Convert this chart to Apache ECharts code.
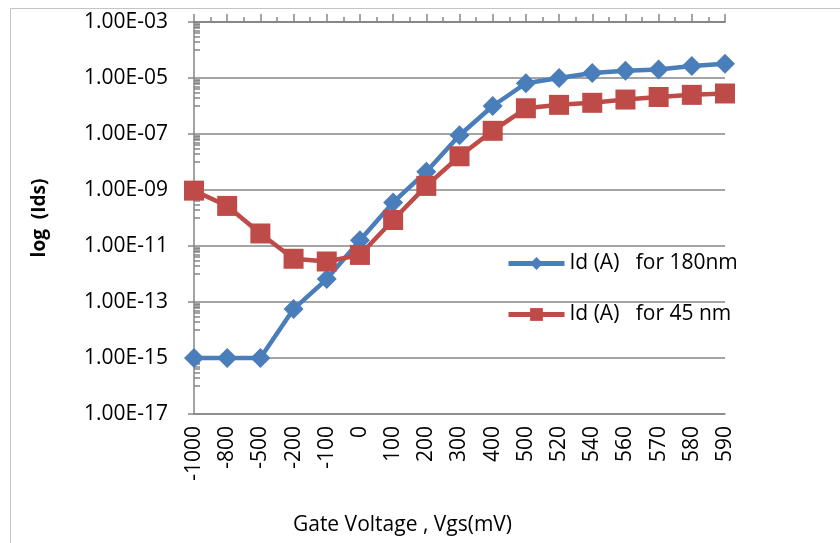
<!DOCTYPE html>
<html>
<head>
<meta charset="utf-8">
<script src="https://cdn.jsdelivr.net/npm/echarts@6/dist/echarts.min.js"></script>
<style>
  html, body { margin: 0; padding: 0; background: #fff; }
  #chart { width: 840px; height: 543px; }
</style>
</head>
<body>
<div id="chart"></div>
<script>
// gate voltage categories (mV)
const vgs = ['-1000', '-800', '-500', '-200', '-100', '0', '100', '200', '300',
  '400', '500', '520', '540', '560', '570', '580', '590']

// drain current Id (A)
const id180 = [1e-15, 1e-15, 1e-15, 5.6e-14, 6.6e-13, 1.6e-11, 3.6e-10, 4.5e-9, 9e-8,
  1.0e-6, 6.5e-6, 1.0e-5, 1.5e-5, 1.8e-5, 2.0e-5, 2.7e-5, 3.2e-5]
const id45 = [9.5e-10, 2.7e-10, 2.8e-11, 3.5e-12, 2.8e-12, 4.8e-12, 8.5e-11, 1.4e-9, 1.6e-8,
  1.3e-7, 8.3e-7, 1.1e-6, 1.3e-6, 1.7e-6, 2.1e-6, 2.5e-6, 2.8e-6]

const seriesNames = ['Id (A)   for 180nm', 'Id (A)   for 45 nm']

// y axis: major ticks every 2 decades
const yMin = 1e-17
const yMax = 1e-3
const majorExps = [-3, -5, -7, -9, -11, -13, -15]

const FONT = 'Open Sans'
const AXIS_GREY = '#868686'

// minor ticks below each major one: 10^e - k * 10^(e-1)
const minorTickValues = []
majorExps.forEach(e => {
  for (let k = 1; k <= 9; k++) {
    minorTickValues.push(Math.pow(10, e) - k * Math.pow(10, e - 1))
  }
})

// half steps between categories, only used for the small ticks on top
const halfSteps = []
vgs.forEach((v, i) => {
  if (i > 0) halfSteps.push(' ' + i)
  halfSteps.push(v)
})

function sci (v) {
  // 1e-5 -> 1.00E-05
  return v.toExponential(2).toUpperCase().replace(/E([+-])(\d)$/, 'E$10$2')
}

const chart = echarts.init(document.getElementById('chart'))

const topStrip = (data, len) => ({
  type: 'category',
  data: data,
  min: 0,
  max: data.length - 1,
  position: 'top',
  boundaryGap: false,
  axisLine: { show: true, onZero: false, lineStyle: { color: AXIS_GREY, width: 1.5 } },
  axisTick: { show: true, interval: 0, length: len, lineStyle: { color: AXIS_GREY, width: 1.5 } },
  axisLabel: { show: false },
  splitLine: { show: false }
})

const option = {
  animation: false,
  textStyle: { fontFamily: FONT },
  graphic: [
    {
      type: 'rect',
      shape: { x: 10.5, y: 8.5, width: 900, height: 600 },
      style: { fill: 'none', stroke: '#c4c4c4', lineWidth: 1 }
    }
  ],
  grid: {
    left: 194,
    right: 115,
    top: 22,
    bottom: 129,
    outerBoundsMode: 'none'
  },
  legend: {
    orient: 'vertical',
    left: 501,
    top: 248,
    itemWidth: 56,
    itemHeight: 16,
    itemGap: 30,
    lineStyle: { width: 5 },
    textStyle: { fontFamily: FONT, fontSize: 21, color: '#000' },
    data: seriesNames
  },
  xAxis: [
    {
      type: 'category',
      data: vgs,
      boundaryGap: false,
      name: 'Gate Voltage , Vgs(mV)',
      nameLocation: 'middle',
      nameGap: 101,
      nameTextStyle: { fontFamily: FONT, fontSize: 21, color: '#000', padding: [0, 114, 0, 0] },
      axisLine: { lineStyle: { color: AXIS_GREY, width: 1.5 } },
      axisTick: { show: false },
      axisLabel: {
        rotate: 90,
        margin: 12,
        fontSize: 21,
        color: '#000'
      }
    },
    topStrip(vgs, 8),
    topStrip(halfSteps, 5)
  ],
  yAxis: [
    {
      type: 'log',
      logBase: 10,
      min: yMin,
      max: yMax,
      interval: 2,
      name: 'log  (Ids)',
      nameLocation: 'middle',
      nameGap: 145,
      nameTextStyle: { fontFamily: FONT, fontSize: 19, fontWeight: 'bold', color: '#000' },
      axisLine: { show: true, lineStyle: { color: AXIS_GREY, width: 1.5 } },
      axisTick: { show: true, length: 6, lineStyle: { color: AXIS_GREY, width: 1.5 } },
      axisLabel: {
        margin: 26,
        fontSize: 21,
        color: '#000',
        formatter: sci
      },
      splitLine: { show: true, lineStyle: { color: AXIS_GREY, width: 1.5 } }
    },
    {
      // minor ticks on the inner side of the value axis
      type: 'log',
      logBase: 10,
      min: yMin,
      max: yMax,
      interval: 2,
      position: 'left',
      axisLine: { show: false },
      axisTick: {
        show: true,
        inside: true,
        length: 6,
        customValues: minorTickValues,
        lineStyle: { color: AXIS_GREY, width: 1.5 }
      },
      axisLabel: { show: false },
      splitLine: { show: false }
    }
  ],
  series: [
    {
      name: seriesNames[0],
      type: 'line',
      data: id180,
      symbol: 'diamond',
      symbolSize: 20,
      lineStyle: { color: '#4a7ebb', width: 4.5 },
      itemStyle: { color: '#4a7ebb' }
    },
    {
      name: seriesNames[1],
      type: 'line',
      data: id45,
      symbol: 'rect',
      symbolSize: 20,
      lineStyle: { color: '#be4b48', width: 4.5 },
      itemStyle: { color: '#be4b48' }
    }
  ]
}

chart.setOption(option)
</script>
</body>
</html>
